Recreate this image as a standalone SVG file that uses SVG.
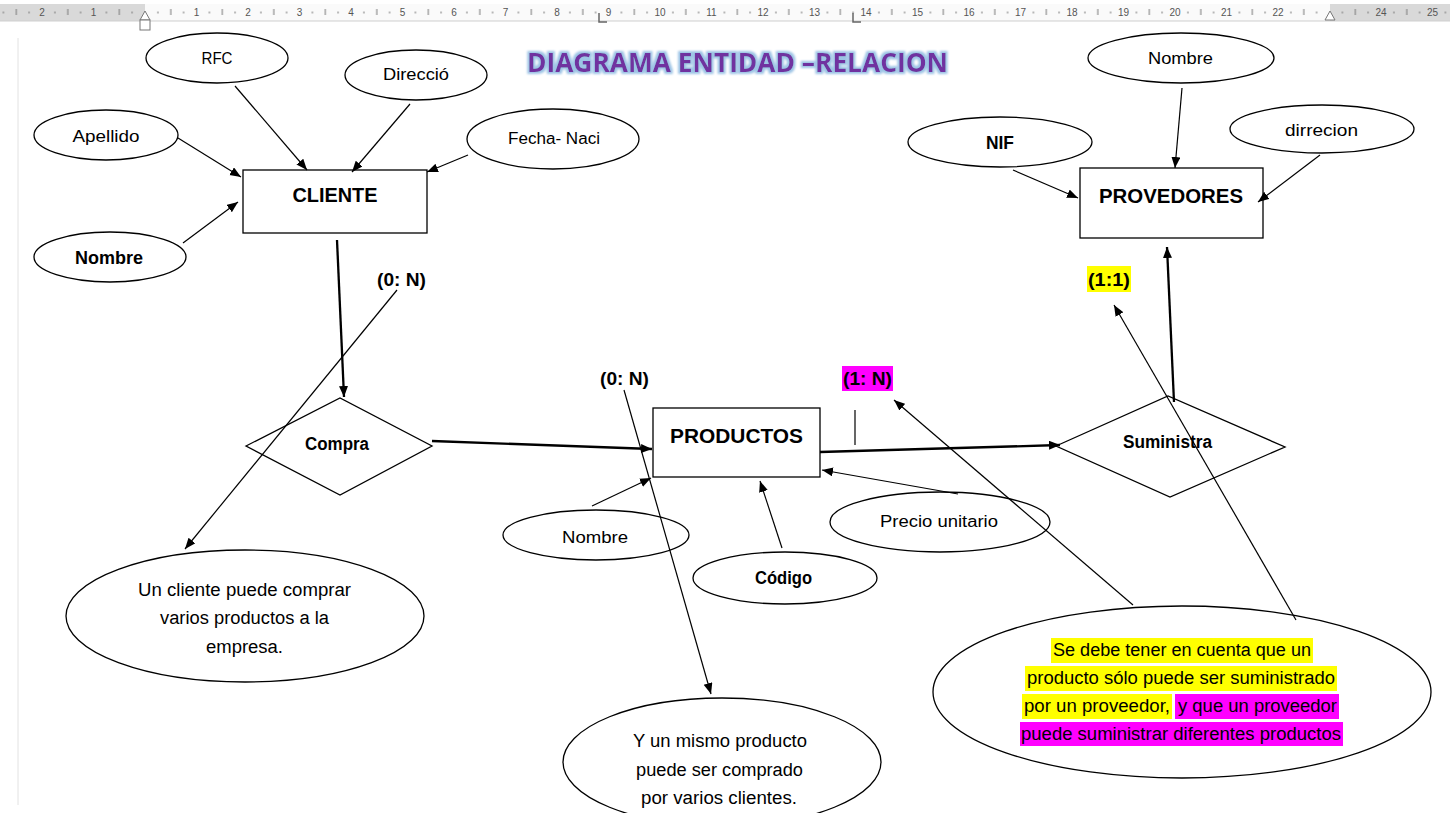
<svg xmlns="http://www.w3.org/2000/svg" width="1450" height="813" viewBox="0 0 1450 813">
<style>
.bg{fill:#ffffff}
.shape{fill:#ffffff;stroke:#000000;stroke-width:1.3}
.lbl{font-family:"Liberation Sans",Arial,sans-serif;font-size:16px;fill:#000000;text-anchor:middle}
.bold{font-weight:bold;font-size:17.5px}
.ent{font-family:"Liberation Sans",Arial,sans-serif;font-size:21px;font-weight:bold;fill:#000000;text-anchor:middle}
.desc{font-family:"Liberation Sans",Arial,sans-serif;font-size:18px;fill:#000000;text-anchor:middle}
.desc2{font-family:"Liberation Sans",Arial,sans-serif;font-size:18px;fill:#000000;text-anchor:start}
.thin{fill:none;stroke:#000000;stroke-width:1.2;marker-end:url(#arr)}
.thick{fill:none;stroke:#000000;stroke-width:2.3;marker-end:url(#arr)}
.plain{fill:none;stroke:#000000;stroke-width:1.2}
.rnum{font-family:"Liberation Sans",Arial,sans-serif;font-size:10px;fill:#555555;text-anchor:middle}
.title{font-family:"Open Sans","Liberation Sans",Arial,sans-serif;font-size:27px;font-weight:bold;fill:#7030A0}
</style>
<defs>
<marker id="arr" markerUnits="userSpaceOnUse" markerWidth="12" markerHeight="10" refX="11" refY="4.5" orient="auto">
<path d="M0,0 L11,4.5 L0,9 z" fill="#000000"/>
</marker>
<pattern id="ticks" patternUnits="userSpaceOnUse" x="145" y="0" width="51.5" height="22">
<rect x="12.4" y="11.5" width="1" height="2" fill="#777777"/>
<rect x="25.3" y="9" width="1" height="6" fill="#777777"/>
<rect x="38.1" y="11.5" width="1" height="2" fill="#777777"/>
</pattern>
<filter id="glow" x="-5%" y="-40%" width="110%" height="180%">
<feMorphology in="SourceAlpha" operator="dilate" radius="1.6" result="d"/>
<feGaussianBlur in="d" stdDeviation="1.3" result="b"/>
<feFlood flood-color="#9cc3e5"/>
<feComposite in2="b" operator="in" result="g"/>
<feMerge><feMergeNode in="g"/><feMergeNode in="SourceGraphic"/></feMerge>
</filter>
</defs>
<rect class="bg" x="0" y="0" width="1450" height="813"/>

<g id="ruler">
<rect x="0" y="4" width="1450" height="17" fill="#d9d9d9"/>
<rect x="145" y="4" width="1185" height="17" fill="#fafafa"/>
<rect x="0" y="4" width="1450" height="17" fill="url(#ticks)"/>
<line x1="0" y1="21" x2="1450" y2="21" stroke="#cfcfcf" stroke-width="1"/>
<text class="rnum" x="42" y="16">2</text>
<text class="rnum" x="93.5" y="16">1</text>
<text class="rnum" x="196.5" y="16">1</text>
<text class="rnum" x="248" y="16">2</text>
<text class="rnum" x="299.5" y="16">3</text>
<text class="rnum" x="351" y="16">4</text>
<text class="rnum" x="402.5" y="16">5</text>
<text class="rnum" x="454" y="16">6</text>
<text class="rnum" x="505.5" y="16">7</text>
<text class="rnum" x="557" y="16">8</text>
<text class="rnum" x="608.5" y="16">9</text>
<text class="rnum" x="660" y="16">10</text>
<text class="rnum" x="711.5" y="16">11</text>
<text class="rnum" x="763" y="16">12</text>
<text class="rnum" x="814.5" y="16">13</text>
<text class="rnum" x="866" y="16">14</text>
<text class="rnum" x="917.5" y="16">15</text>
<text class="rnum" x="969" y="16">16</text>
<text class="rnum" x="1020.5" y="16">17</text>
<text class="rnum" x="1072" y="16">18</text>
<text class="rnum" x="1123.5" y="16">19</text>
<text class="rnum" x="1175" y="16">20</text>
<text class="rnum" x="1226.5" y="16">21</text>
<text class="rnum" x="1278" y="16">22</text>
<text class="rnum" x="1381" y="16">24</text>
<text class="rnum" x="1432.5" y="16">25</text>
<path d="M140,20 L145,11 L150,20 Z" fill="#ffffff" stroke="#777777" stroke-width="1"/>
<rect x="140" y="20" width="10" height="10" fill="#ffffff" stroke="#777777" stroke-width="1"/>
<path d="M1325,20 L1330,11 L1335,20 Z" fill="#ffffff" stroke="#777777" stroke-width="1"/>
<path d="M599,13 L599,22 L607,22" fill="none" stroke="#666666" stroke-width="1.5"/>
<path d="M853,13 L853,22 L861,22" fill="none" stroke="#666666" stroke-width="1.5"/>
<line x1="18" y1="38" x2="18" y2="805" stroke="#e2e2e2" stroke-width="1"/>
</g>

<g id="title">
<text class="title" x="527" y="72" textLength="421" lengthAdjust="spacingAndGlyphs" filter="url(#glow)">DIAGRAMA ENTIDAD –RELACION</text>
</g>

<g id="cliente">
<rect class="shape" x="243" y="170" width="184" height="63"/>
<text class="ent" x="335" y="202" textLength="85" lengthAdjust="spacingAndGlyphs">CLIENTE</text>
</g>
<g id="attr-rfc">
<ellipse class="shape" cx="217" cy="58" rx="71" ry="25"/>
<text class="lbl" x="217" y="64" textLength="31" lengthAdjust="spacingAndGlyphs">RFC</text>
</g>
<g id="attr-direccio">
<ellipse class="shape" cx="416" cy="75" rx="71" ry="25"/>
<text class="lbl" x="416" y="80" textLength="66" lengthAdjust="spacingAndGlyphs">Direcció</text>
</g>
<g id="attr-apellido">
<ellipse class="shape" cx="106" cy="135" rx="72" ry="25"/>
<text class="lbl" x="106" y="142" textLength="67" lengthAdjust="spacingAndGlyphs">Apellido</text>
</g>
<g id="attr-fecha">
<ellipse class="shape" cx="553" cy="139" rx="86" ry="30"/>
<text class="lbl" x="554" y="144" textLength="92" lengthAdjust="spacingAndGlyphs">Fecha- Naci</text>
</g>
<g id="attr-nombre-cliente">
<ellipse class="shape" cx="110" cy="257" rx="76" ry="25"/>
<text class="lbl bold" x="109" y="264" textLength="68" lengthAdjust="spacingAndGlyphs">Nombre</text>
</g>

<g id="compra">
<polygon class="shape" points="246,446 340,398 432,446 340,495"/>
<text class="lbl bold" x="337" y="450" textLength="64" lengthAdjust="spacingAndGlyphs">Compra</text>
</g>

<g id="nota-cliente">
<ellipse class="shape" cx="245" cy="616" rx="179" ry="66"/>
<text class="desc" x="244.5" y="596" textLength="213" lengthAdjust="spacingAndGlyphs">Un cliente puede comprar</text>
<text class="desc" x="244.5" y="624" textLength="169" lengthAdjust="spacingAndGlyphs">varios productos a la</text>
<text class="desc" x="244.5" y="653" textLength="77" lengthAdjust="spacingAndGlyphs">empresa.</text>
</g>

<g id="productos">
<rect class="shape" x="653" y="408" width="167" height="69"/>
<text class="ent" x="736.5" y="443" textLength="133" lengthAdjust="spacingAndGlyphs">PRODUCTOS</text>
</g>
<g id="attr-nombre-producto">
<ellipse class="shape" cx="596" cy="535" rx="93" ry="25"/>
<text class="lbl" x="595" y="543" textLength="66" lengthAdjust="spacingAndGlyphs">Nombre</text>
</g>
<g id="attr-codigo">
<ellipse class="shape" cx="785" cy="578" rx="92" ry="26"/>
<text class="lbl bold" x="783.5" y="584" textLength="57" lengthAdjust="spacingAndGlyphs">Código</text>
</g>
<g id="attr-precio">
<ellipse class="shape" cx="940" cy="522" rx="110" ry="30"/>
<text class="lbl" x="939" y="527" textLength="118" lengthAdjust="spacingAndGlyphs">Precio unitario</text>
</g>

<g id="nota-producto">
<ellipse class="shape" cx="722" cy="762" rx="159" ry="64"/>
<text class="desc" x="720" y="747" textLength="174" lengthAdjust="spacingAndGlyphs">Y un mismo producto</text>
<text class="desc" x="719.5" y="776" textLength="167" lengthAdjust="spacingAndGlyphs">puede ser comprado</text>
<text class="desc" x="719" y="804" textLength="156" lengthAdjust="spacingAndGlyphs">por varios clientes.</text>
</g>

<g id="suministra">
<polygon class="shape" points="1056,446 1168,396 1285,447 1170,497"/>
<text class="lbl bold" x="1167.5" y="448" textLength="89" lengthAdjust="spacingAndGlyphs">Suministra</text>
</g>

<g id="provedores">
<rect class="shape" x="1080" y="168" width="183" height="70"/>
<text class="ent" x="1171" y="203" textLength="144" lengthAdjust="spacingAndGlyphs">PROVEDORES</text>
</g>
<g id="attr-nombre-prov">
<ellipse class="shape" cx="1181" cy="58" rx="93" ry="25"/>
<text class="lbl" x="1180.5" y="64" textLength="65" lengthAdjust="spacingAndGlyphs">Nombre</text>
</g>
<g id="attr-nif">
<ellipse class="shape" cx="1000" cy="142" rx="92" ry="25"/>
<text class="lbl bold" x="1000" y="149" textLength="28" lengthAdjust="spacingAndGlyphs">NIF</text>
</g>
<g id="attr-dirrecion">
<ellipse class="shape" cx="1322" cy="129" rx="92" ry="24"/>
<text class="lbl" x="1321.5" y="136" textLength="73" lengthAdjust="spacingAndGlyphs">dirrecion</text>
</g>

<g id="nota-proveedor">
<ellipse class="shape" cx="1182" cy="692" rx="249" ry="86"/>
<rect x="1051" y="638" width="262" height="25" fill="#ffff00"/>
<rect x="1025" y="666" width="312" height="25" fill="#ffff00"/>
<rect x="1022" y="694" width="150" height="25" fill="#ffff00"/>
<rect x="1175" y="694" width="164" height="25" fill="#ff00ff"/>
<rect x="1020" y="722" width="323" height="24" fill="#ff00ff"/>
<text class="desc" x="1182" y="656" textLength="258" lengthAdjust="spacingAndGlyphs">Se debe tener en cuenta que un</text>
<text class="desc" x="1181" y="684" textLength="308" lengthAdjust="spacingAndGlyphs">producto sólo puede ser suministrado</text>
<text class="desc2" x="1024" y="712" textLength="146" lengthAdjust="spacingAndGlyphs">por un proveedor,</text>
<text class="desc2" x="1178" y="712" textLength="159" lengthAdjust="spacingAndGlyphs">y que un proveedor</text>
<text class="desc" x="1181" y="740" textLength="320" lengthAdjust="spacingAndGlyphs">puede suministrar diferentes productos</text>
</g>

<g id="cardinalidades">
<text class="lbl bold" x="401.5" y="286" textLength="49" lengthAdjust="spacingAndGlyphs" style="font-size:18px">(0: N)</text>
<text class="lbl bold" x="624.5" y="385" textLength="49" lengthAdjust="spacingAndGlyphs" style="font-size:18px">(0: N)</text>
<rect x="842" y="366" width="51" height="25" fill="#ff00ff"/>
<text class="lbl bold" x="867.5" y="385" textLength="49" lengthAdjust="spacingAndGlyphs" style="font-size:18px">(1: N)</text>
<rect x="1087" y="266" width="44" height="26" fill="#ffff00"/>
<text class="lbl bold" x="1109" y="286" textLength="42" lengthAdjust="spacingAndGlyphs" style="font-size:18px">(1:1)</text>
</g>

<g id="connectors">
<path class="thin" d="M178,138 L241,177"/>
<path class="thin" d="M235,86 L307,170"/>
<path class="thin" d="M410,104 L352,172"/>
<path class="thin" d="M468,155 L427,172"/>
<path class="thin" d="M183,243 L238,202"/>
<path class="thick" d="M337,240 L344,397"/>
<path class="thin" d="M397,290 L185,549"/>
<path class="thick" d="M432,441 L652,449"/>
<path class="thin" d="M624,390 L711,694"/>
<path class="plain" d="M855,410 L855,445"/>
<path class="thick" d="M820,452 L1060,445"/>
<path class="thick" d="M1174,402 L1167,247"/>
<path class="thin" d="M1182,88 L1175,168"/>
<path class="thin" d="M1013,170 L1078,198"/>
<path class="thin" d="M1320,155 L1258,202"/>
<path class="thin" d="M592,506 L651,478"/>
<path class="thin" d="M782,548 L760,481"/>
<path class="thin" d="M958,494 L822,470"/>
<path class="thin" d="M1133,605 L894,400"/>
<path class="thin" d="M1296,620 L1114,305"/>
</g>
</svg>
